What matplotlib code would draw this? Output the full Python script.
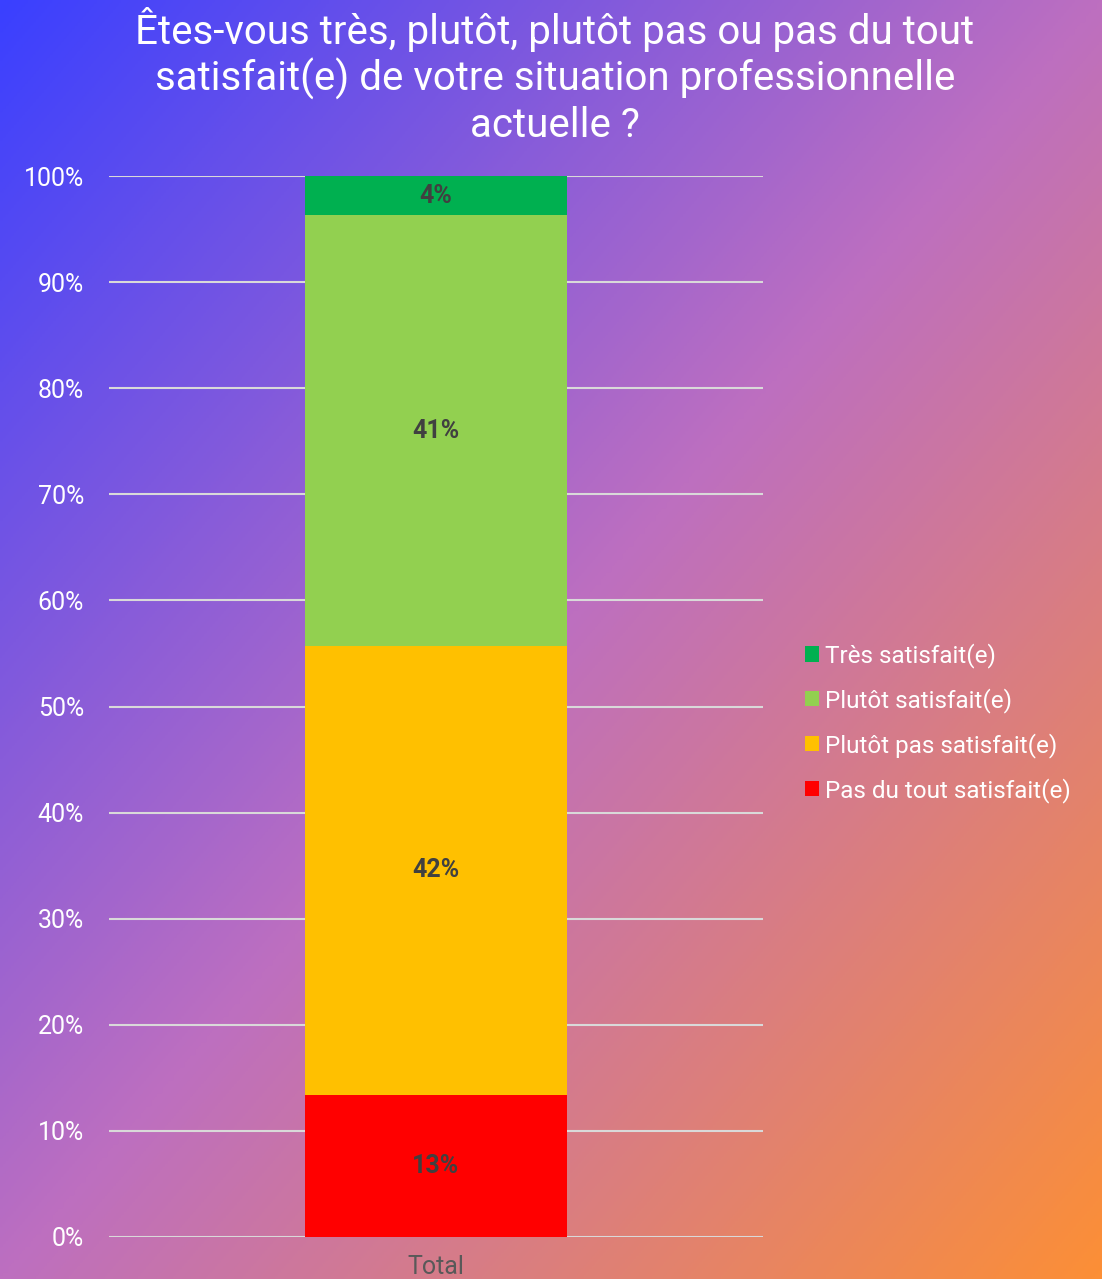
import matplotlib
matplotlib.use("Agg")
import matplotlib.pyplot as plt
import numpy as np
from matplotlib.colors import LinearSegmentedColormap

categories = ["Total"]
series_names = ["Pas du tout satisfait(e)", "Plutôt pas satisfait(e)", "Plutôt satisfait(e)", "Très satisfait(e)"]
series_values = [13.4, 42.3, 40.6, 3.7]
series_labels = ["13%", "42%", "41%", "4%"]
series_colors = ["#FF0000", "#FFC000", "#92D050", "#00B050"]
yticks = [0, 10, 20, 30, 40, 50, 60, 70, 80, 90, 100]
title = "Êtes-vous très, plutôt, plutôt pas ou pas du tout\nsatisfait(e) de votre situation professionnelle\nactuelle ?"

plt.rcParams['font.family'] = ['Roboto', 'DejaVu Sans']

W, H = 1102, 1279
fig = plt.figure(figsize=(W / 100, H / 100), dpi=100)

# background gradient
bg = fig.add_axes([0, 0, 1, 1], zorder=-10)
xx, yy = np.meshgrid(np.linspace(0, 1, 400), np.linspace(0, 1, 400))
t = (xx + yy) / 2
cmap = LinearSegmentedColormap.from_list("bg", [(0, "#3a40ff"), (0.5, "#bd6fc0"), (1.0, "#fc8f36")])
bg.imshow(t, cmap=cmap, aspect="auto", extent=[0, 1, 1, 0], vmin=0, vmax=1)
bg.axis("off")

ax = fig.add_axes([109 / W, 1 - 1237 / H, (763 - 109) / W, (1237 - 176) / H])
ax.patch.set_alpha(0)
x = np.arange(len(categories))
bottom = np.zeros(len(categories))
handles = []
for name, val, lab, col in zip(series_names, series_values, series_labels, series_colors):
    b = ax.bar(x, [val], width=0.4, bottom=bottom, color=col, label=name, zorder=3)
    handles.append(b)
    ax.text(x[0], bottom[0] + val / 2, lab, ha="center", va="center",
            fontsize=18, fontweight="bold", color="#404040", zorder=4)
    bottom = bottom + val

ax.set_xlim(-0.5, 0.5)
ax.set_ylim(0, 100)
ax.set_yticks(yticks)
ax.set_yticklabels([f"{v}%" for v in yticks], color="white", fontsize=18)
ax.set_xticks(x)
ax.set_xticklabels(categories, color="#595959", fontsize=18)
ax.tick_params(axis="both", length=0)
ax.tick_params(axis="y", pad=18)
ax.tick_params(axis="x", pad=13)
ax.yaxis.grid(True, color="#d9d9d9", linewidth=1.5, zorder=0)
for s in ax.spines.values():
    s.set_visible(False)

leg_handles = handles[::-1]
leg = fig.legend(leg_handles, [h.get_label() for h in leg_handles],
                 loc="center left", bbox_to_anchor=(805 / W, 1 - 723 / H),
                 frameon=False, fontsize=17.5, labelcolor="white",
                 handlelength=0.58, handleheight=0.58, handletextpad=0.25,
                 labelspacing=0.82, borderpad=0, borderaxespad=0)

fig.text(555 / W, 1 - 76 / H, title, ha="center", va="center", color="white",
         fontsize=29, linespacing=1.2)

fig.savefig("out.png", dpi=100)
